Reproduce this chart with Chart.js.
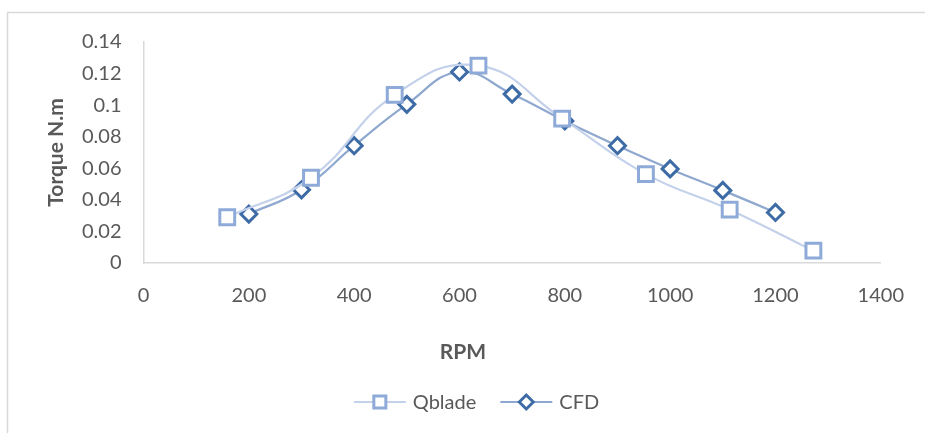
<!DOCTYPE html>
<html>
<head>
<meta charset="utf-8">
<script src="https://cdn.jsdelivr.net/npm/chart.js@4"></script>
<style>
html,body{margin:0;padding:0;background:#fff;}
#wrap{position:absolute;left:0;top:0;width:925px;height:433px;}
</style>
</head>
<body>
<div id="wrap"><canvas id="c" width="925" height="433"></canvas></div>
<script>
// ---- data ----
const qbladeRPM    = [159, 318, 477, 636, 795, 954, 1113, 1272];
const qbladeTorque = [0.029, 0.054, 0.1065, 0.125, 0.0915, 0.0563, 0.0338, 0.0078];
const cfdRPM       = [200, 300, 400, 500, 600, 700, 800, 900, 1000, 1100, 1200];
const cfdTorque    = [0.031, 0.0464, 0.0743, 0.1005, 0.121, 0.107, 0.090, 0.0743, 0.0596, 0.046, 0.032];
const xTicks = [0, 200, 400, 600, 800, 1000, 1200, 1400];
const yTicks = [0, 0.02, 0.04, 0.06, 0.08, 0.1, 0.12, 0.14];
const seriesNames = ['Qblade', 'CFD'];
const xTitle = 'RPM';
const yTitle = 'Torque N.m';

const toPts = (xs, ys) => xs.map((x, i) => ({x: x, y: ys[i]}));

const textColor = '#595959';
const axisColor = '#d9d9d9';

const frame = {
  id: 'frame',
  beforeDraw(chart) {
    const ctx = chart.ctx;
    ctx.save();
    ctx.fillStyle = '#fff';
    ctx.fillRect(0, 0, chart.width, chart.height);
    ctx.strokeStyle = '#d9d9d9';
    ctx.lineWidth = 1.5;
    ctx.beginPath();
    ctx.moveTo(7.5, 433);
    ctx.lineTo(7.5, 12.5);
    ctx.lineTo(925, 12.5);
    ctx.stroke();
    ctx.restore();
  }
};

const xTitlePlugin = {
  id: 'xTitlePlugin',
  afterDraw(chart) {
    const ctx = chart.ctx;
    ctx.save();
    ctx.font = 'bold 21px Lato';
    ctx.fillStyle = textColor;
    ctx.textAlign = 'center';
    ctx.textBaseline = 'middle';
    ctx.fillText(xTitle, 463, 352);
    ctx.restore();
  }
};

const customLegend = {
  id: 'customLegend',
  afterDraw(chart) {
    const ctx = chart.ctx;
    ctx.save();
    ctx.font = '20px Lato';
    const lineW = 52, gapText = 7, gapItem = 24;
    const items = chart.data.datasets.map(ds => ({ds, w: ctx.measureText(ds.label).width}));
    let total = 0;
    items.forEach((it, i) => { total += lineW + gapText + it.w + (i ? gapItem : 0); });
    let x = 476.5 - total / 2;
    const y = 402;
    items.forEach((it, i) => {
      if (i) x += gapItem;
      const ds = it.ds;
      ctx.strokeStyle = ds.borderColor;
      ctx.lineWidth = ds.borderWidth;
      ctx.beginPath();
      ctx.moveTo(x, y);
      ctx.lineTo(x + lineW, y);
      ctx.stroke();
      const cx = x + lineW / 2;
      ctx.fillStyle = '#fff';
      ctx.strokeStyle = ds.pointBorderColor;
      ctx.lineWidth = ds.pointBorderWidth;
      Chart.helpers.drawPoint(ctx, {pointStyle: ds.pointStyle, rotation: 0,
        radius: ds.legendRadius, borderWidth: ds.pointBorderWidth}, cx, y);
      ctx.fillStyle = textColor;
      ctx.font = '20px Lato';
      ctx.textBaseline = 'middle';
      ctx.textAlign = 'left';
      ctx.fillText(ds.label, x + lineW + gapText, y + 1);
      x += lineW + gapText + it.w;
    });
    ctx.restore();
  }
};

new Chart(document.getElementById('c'), {
  type: 'line',
  data: {
    datasets: [
      {
        label: seriesNames[0],
        data: toPts(qbladeRPM, qbladeTorque),
        borderColor: '#c3d1ea',
        borderWidth: 2.2,
        tension: 0.45,
        pointStyle: 'rect',
        pointRadius: 10.5,
        legendRadius: 8.5,
        pointBorderWidth: 3,
        pointBorderColor: '#8eaad8',
        pointBackgroundColor: '#ffffff',
        fill: false
      },
      {
        label: seriesNames[1],
        data: toPts(cfdRPM, cfdTorque),
        borderColor: '#8ea8cf',
        borderWidth: 2.2,
        tension: 0.45,
        pointStyle: 'rectRot',
        pointRadius: 8,
        legendRadius: 7,
        pointBorderWidth: 3,
        pointBorderColor: '#3d6ba5',
        pointBackgroundColor: '#ffffff',
        fill: false
      }
    ]
  },
  options: {
    responsive: false,
    animation: false,
    events: [],
    layout: {padding: {left: 0, right: 41, top: 42, bottom: 0}},
    plugins: {legend: {display: false}, tooltip: {enabled: false}},
    scales: {
      x: {
        type: 'linear',
        min: 0, max: 1400,
        afterBuildTicks(scale) { scale.ticks = xTicks.map(v => ({value: v})); },
        afterFit(scale) { scale.height = 170; },
        grid: {display: false, drawTicks: false},
        border: {display: true, color: axisColor, width: 1.5},
        ticks: {color: textColor, font: {family: 'Lato', size: 20}, padding: 21, maxRotation: 0,
                callback: v => String(v)},
        title: {display: false}
      },
      y: {
        type: 'linear',
        min: 0, max: 0.14,
        afterBuildTicks(scale) { scale.ticks = yTicks.map(v => ({value: v})); },
        afterFit(scale) { scale.width = 143.5; },
        grid: {display: false, drawTicks: false},
        border: {display: true, color: axisColor, width: 1.5},
        ticks: {color: textColor, font: {family: 'Lato', size: 20}, padding: 22,
                callback: v => String(+v.toFixed(2))},
        title: {display: true, text: yTitle, color: textColor,
                font: {family: 'Lato', size: 21, weight: 'bold'}, padding: {top: 44, bottom: 0}}
      }
    }
  },
  plugins: [frame, xTitlePlugin, customLegend]
});
</script>
</body>
</html>
